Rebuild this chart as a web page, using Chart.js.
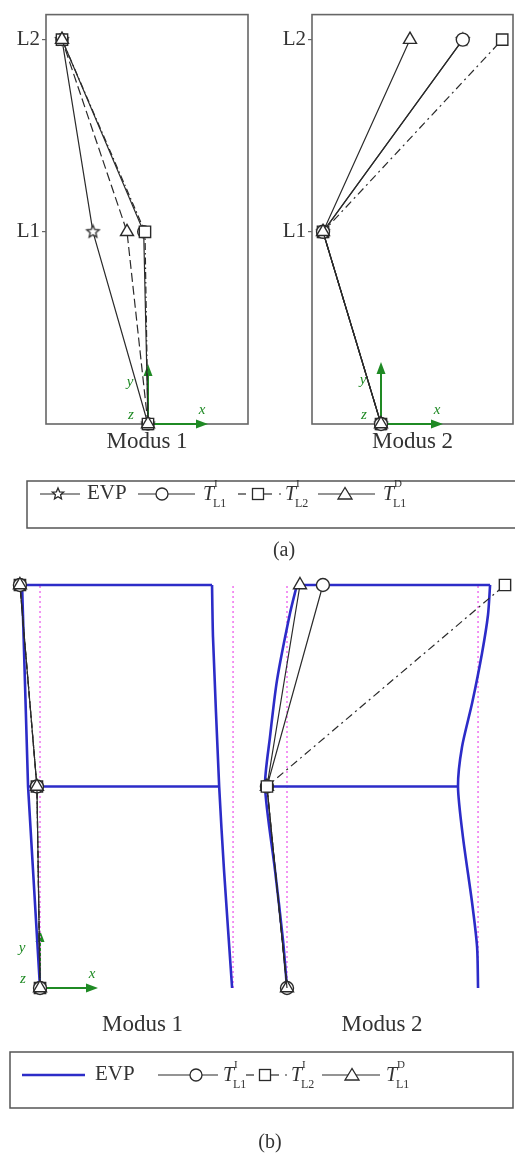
<!DOCTYPE html>
<html>
<head>
<meta charset="utf-8">
<script src="https://cdn.jsdelivr.net/npm/chart.js@4.4.1/dist/chart.umd.min.js"></script>
<style>
  html, body { margin: 0; padding: 0; background: #fff; }
  #page { position: relative; width: 515px; height: 1156px; overflow: hidden;
          font-family: 'Liberation Serif', 'DejaVu Serif', serif; color: #333; }
  #page canvas, #page svg, .lbl { position: absolute; }
  .lbl { line-height: 1; white-space: nowrap; }
</style>
</head>
<body>
<div id="page">
  <canvas id="a1" width="256" height="456" style="left:0;top:0"></canvas>
  <canvas id="a2" width="249" height="456" style="left:266px;top:0"></canvas>
  <canvas id="b2" width="260" height="480" style="left:255px;top:560px"></canvas>
  <canvas id="b1" width="285" height="480" style="left:0;top:560px"></canvas>
  <svg id="leg" width="515" height="1156" style="left:0;top:0"></svg>
</div>
<script>
// storey levels: ground, L1, L2
const levels = [0, 1, 2];
const levelLabels = ['', 'L1', 'L2'];

// (a) normalised mode shapes, one value per level
const evpA1 = [0, -0.64, -1];
const tI1A1 = [0, -0.05, -1];
const tI2A1 = [0, -0.035, -1];
const tD1A1 = [0, -0.244, -1];

const evpA2 = [0, -1, 1.41];
const tI1A2 = [0, -1, 1.41];
const tI2A2 = [0, -1, 2.09];
const tD1A2 = [0, -1, 0.5];

// (b) node displacements in bay widths
const tI1B1 = [0, -0.016, -0.104];
const tI2B1 = [0, -0.016, -0.104];
const tD1B1 = [0, -0.016, -0.104];

const tI1B2 = [0, -0.105, 0.188];
const tI2B2 = [0, -0.105, 1.141];
const tD1B2 = [0, -0.105, 0.068];

// (b) EVP deformed frame, Modus 1
const b1LeftY = [0, 1, 2];
const b1LeftX = [0, -0.062, -0.093];
const b1RightY = [0, 0.586, 1, 1.742, 2];
const b1RightX = [0.995, 0.953, 0.928, 0.896, 0.891];
const b1TopX = [-0.093, 0.891];
const b1MidX = [-0.062, 0.928];

// (b) EVP deformed frame, Modus 2
const b2LeftY = [0, 0.238, 0.586, 1, 1.246, 1.529, 1.861, 2];
const b2LeftX = [0, -0.021, -0.063, -0.115, -0.089, -0.052, 0.016, 0.052];
const b2RightY = [0, 0.203, 0.422, 0.749, 1, 1.196, 1.414, 1.663, 1.851, 2];
const b2RightX = [1.0, 0.995, 0.969, 0.921, 0.895, 0.916, 0.969, 1.021, 1.052, 1.063];
const b2TopX = [0.052, 1.063];
const b2MidX = [-0.115, 0.895];

// undeformed columns
const colX = [0, 1];
const colY = [0, 2];

const ink = '#2a2a2a';
const blue = '#2c2cc8';
const pink = '#f07af0';
const green = '#1f8a24';
const dashDot = [7, 3, 1.5, 3];

const toPts = (xs, ys) => xs.map((x, i) => ({ x: x, y: ys[i] }));

function starImage(r) {
  const c = document.createElement('canvas');
  const s = Math.ceil(r * 2 + 4);
  c.width = c.height = s;
  const g = c.getContext('2d');
  g.beginPath();
  for (let i = 0; i < 10; i++) {
    const rad = i % 2 ? r * 0.45 : r;
    const a = -Math.PI / 2 + i * Math.PI / 5;
    g.lineTo(s / 2 + rad * Math.cos(a), s / 2 + rad * Math.sin(a));
  }
  g.closePath();
  g.fillStyle = '#fff';
  g.fill();
  g.strokeStyle = ink;
  g.lineWidth = 1.3;
  g.stroke();
  return c;
}
const star = starImage(6.5);

function markerSeries(label, xs, style, radius, dash) {
  return {
    label: label, data: toPts(xs, levels), showLine: true,
    borderColor: ink, borderWidth: 1.2, borderDash: dash || [],
    pointStyle: style, pointRadius: radius, pointHoverRadius: radius,
    pointBackgroundColor: '#fff', pointBorderColor: ink, pointBorderWidth: 1.4,
    clip: false
  };
}

function lineSeries(label, xs, ys, color, width, dash, tension) {
  return {
    label: label, data: toPts(xs, ys), showLine: true,
    borderColor: color, borderWidth: width, borderDash: dash || [],
    pointRadius: 0, tension: tension || 0, clip: false
  };
}

const boxFrame = {
  id: 'boxFrame',
  beforeDatasetsDraw(chart, args, opts) {
    if (!opts.show) return;
    const { ctx, chartArea: a } = chart;
    ctx.save();
    ctx.strokeStyle = '#666';
    ctx.lineWidth = 1.6;
    ctx.strokeRect(a.left, a.top, a.right - a.left, a.bottom - a.top);
    ctx.restore();
  }
};

// small green x/y/z coordinate triad at the base node
const triad = {
  id: 'triad',
  beforeDatasetsDraw(chart, args, opts) {
    if (!opts.show) return;
    const { ctx, scales } = chart;
    const ox = scales.x.getPixelForValue(0);
    const oy = scales.y.getPixelForValue(0);
    const L = opts.len;
    ctx.save();
    ctx.strokeStyle = green;
    ctx.fillStyle = green;
    ctx.lineWidth = 2;
    ctx.beginPath();
    ctx.moveTo(ox, oy); ctx.lineTo(ox + L - 8, oy);
    ctx.moveTo(ox, oy); ctx.lineTo(ox, oy - L + 8);
    ctx.stroke();
    ctx.beginPath();
    ctx.moveTo(ox + L, oy); ctx.lineTo(ox + L - 12, oy - 4.5); ctx.lineTo(ox + L - 12, oy + 4.5);
    ctx.closePath(); ctx.fill();
    ctx.beginPath();
    ctx.moveTo(ox, oy - L); ctx.lineTo(ox - 4.5, oy - L + 12); ctx.lineTo(ox + 4.5, oy - L + 12);
    ctx.closePath(); ctx.fill();
    ctx.font = 'italic 15px "Liberation Serif"';
    ctx.textAlign = 'center';
    ctx.textBaseline = 'middle';
    ctx.fillText('x', ox + L - 6, oy - 14);
    ctx.fillText('y', ox - 18, oy - L + 18);
    ctx.fillText('z', ox - 17, oy - 9);
    ctx.restore();
  }
};

function panelChart(id, o) {
  return new Chart(document.getElementById(id), {
    type: 'scatter',
    data: { datasets: o.datasets },
    options: {
      responsive: false, animation: false, devicePixelRatio: 1,
      layout: { padding: o.padding, autoPadding: false },
      plugins: {
        legend: { display: false }, tooltip: { enabled: false },
        boxFrame: { show: o.frame }, triad: { show: o.triad, len: o.triadLen }
      },
      scales: {
        x: {
          type: 'linear', min: o.xMin, max: o.xMax,
          afterFit: s => { s.height = o.xAxisH; },
          ticks: { display: false }, grid: { display: false }, border: { display: false },
          title: {
            display: true, text: o.title, color: '#333',
            font: { family: 'Liberation Serif', size: 23 },
            padding: { top: 0, bottom: o.titlePad }
          }
        },
        y: {
          type: 'linear', min: o.yMin, max: o.yMax, display: o.yWidth > 0,
          afterFit: s => { s.width = o.yWidth; },
          afterBuildTicks: s => { s.ticks = o.yTicks ? levels.slice(1).map(v => ({ value: v })) : []; },
          ticks: {
            display: !!o.yTicks, autoSkip: false, padding: 2, color: '#333',
            font: { family: 'Liberation Serif', size: 21 },
            callback: v => levelLabels[v] || ''
          },
          grid: { display: !!o.yTicks, drawOnChartArea: false, drawTicks: true, tickLength: 4, color: '#666', lineWidth: 1.2 },
          border: { display: false }
        }
      }
    },
    plugins: [boxFrame, triad]
  });
}

// (a) Modus 1
panelChart('a1', {
  datasets: [
    markerSeries('T D L1', tD1A1, 'triangle', 7.5, [9, 4]),
    markerSeries('T I L2', tI2A1, 'rect', 8, dashDot),
    markerSeries('T I L1', tI1A1, 'circle', 6),
    markerSeries('EVP', evpA1, star, 6)
  ],
  padding: { left: 0, right: 8, top: 14, bottom: 0 },
  xMin: -1.186, xMax: 1.163, yMin: 0, yMax: 2.13,
  xAxisH: 32, titlePad: 0, yWidth: 46, yTicks: true,
  title: 'Modus 1', frame: true, triad: true, triadLen: 60
});

// (a) Modus 2
panelChart('a2', {
  datasets: [
    markerSeries('T D L1', tD1A2, 'triangle', 7.5),
    markerSeries('T I L1', tI1A2, 'circle', 6.5),
    markerSeries('T I L2', tI2A2, 'rect', 8, [8, 4, 2, 4]),
    markerSeries('EVP', evpA2, star, 6)
  ],
  padding: { left: 0, right: 2, top: 14, bottom: 0 },
  xMin: -1.19, xMax: 2.276, yMin: 0, yMax: 2.13,
  xAxisH: 32, titlePad: 0, yWidth: 46, yTicks: true,
  title: 'Modus 2', frame: true, triad: true, triadLen: 62
});

// (b) Modus 1
panelChart('b1', {
  datasets: [
    markerSeries('T D L1', tD1B1, 'triangle', 7.5, [7, 3]),
    markerSeries('T I L1', tI1B1, 'circle', 6.5),
    markerSeries('T I L2', tI2B1, 'rect', 8, dashDot),
    lineSeries('EVP', b1LeftX, b1LeftY, blue, 2.6),
    lineSeries('EVP', b1RightX, b1RightY, blue, 2.6, null, 0.2),
    lineSeries('EVP', b1TopX, [2, 2], blue, 2.6),
    lineSeries('EVP', b1MidX, [1, 1], blue, 2.6),
    lineSeries('undeformed', [colX[0], colX[0]], colY, pink, 1.6, [2, 3]),
    lineSeries('undeformed', [colX[1], colX[1]], colY, pink, 1.6, [2, 3])
  ],
  padding: { left: 0, right: 0, top: 10, bottom: 0 },
  xMin: -0.2073, xMax: 1.269, yMin: -0.0844, yMax: 2.0744,
  xAxisH: 35, titlePad: 1, yWidth: 0, yTicks: false,
  title: 'Modus 1', frame: false, triad: true, triadLen: 58
});

// (b) Modus 2 — the square marker is not shown at the fixed base node
const sqB2 = markerSeries('T I L2', tI2B2, 'rect', 8, [8, 4, 2, 4]);
sqB2.pointRadius = [0, 8, 8];
panelChart('b2', {
  datasets: [
    sqB2,
    markerSeries('T D L1', tD1B2, 'triangle', 7.5),
    markerSeries('T I L1', tI1B2, 'circle', 6.5),
    lineSeries('EVP', b2LeftX, b2LeftY, blue, 2.6, null, 0.25),
    lineSeries('EVP', b2RightX, b2RightY, blue, 2.6, null, 0.25),
    lineSeries('EVP', b2TopX, [2, 2], blue, 2.6),
    lineSeries('EVP', b2MidX, [1, 1], blue, 2.6),
    lineSeries('undeformed', [colX[0], colX[0]], colY, pink, 1.6, [2, 3]),
    lineSeries('undeformed', [colX[1], colX[1]], colY, pink, 1.6, [2, 3])
  ],
  padding: { left: 0, right: 6, top: 10, bottom: 0 },
  xMin: -0.1675, xMax: 1.162, yMin: -0.0844, yMax: 2.0744,
  xAxisH: 35, titlePad: 1, yWidth: 0, yTicks: false,
  title: 'Modus 2', frame: false, triad: false
});

// ---- legends ----
const page = document.getElementById('page');
const leg = document.getElementById('leg');
const svgNS = 'http://www.w3.org/2000/svg';

function el(tag, attrs) {
  const e = document.createElementNS(svgNS, tag);
  for (const k in attrs) e.setAttribute(k, attrs[k]);
  leg.appendChild(e);
  return e;
}
function seg(x1, x2, y, color, w, dash) {
  el('line', { x1: x1, y1: y, x2: x2, y2: y, stroke: color || ink, 'stroke-width': w || 1.2, 'stroke-dasharray': dash || 'none' });
}
const mk = { fill: '#fff', stroke: ink, 'stroke-width': 1.3 };
function circle(x, y) { el('circle', Object.assign({ cx: x, cy: y, r: 6 }, mk)); }
function square(x, y) { el('rect', Object.assign({ x: x - 5.5, y: y - 5.5, width: 11, height: 11 }, mk)); }
function tri(x, y) { el('polygon', Object.assign({ points: `${x},${y - 6.5} ${x - 7},${y + 5} ${x + 7},${y + 5}` }, mk)); }
function starMark(x, y) {
  const p = [];
  for (let i = 0; i < 10; i++) {
    const rad = i % 2 ? 2.7 : 6;
    const a = -Math.PI / 2 + i * Math.PI / 5;
    p.push((x + rad * Math.cos(a)).toFixed(1) + ',' + (y + rad * Math.sin(a)).toFixed(1));
  }
  el('polygon', Object.assign({ points: p.join(' ') }, mk));
}
function label(x, cy, html, size, center) {
  const d = document.createElement('div');
  d.className = 'lbl';
  d.style.left = x + 'px';
  d.style.top = (cy - size * 0.55) + 'px';
  d.style.fontSize = size + 'px';
  if (center) d.style.transform = 'translateX(-50%)';
  d.innerHTML = html;
  page.appendChild(d);
}
function tLabel(x, cy, sup, sub) {
  label(x, cy, '<i>T</i>', 20);
  label(x + 11, cy - 10, sup, 11);
  label(x + 10, cy + 10, sub, 12);
}

// legend (a)
el('rect', { x: 27, y: 481, width: 500, height: 47, fill: 'none', stroke: '#555', 'stroke-width': 1.5 });
let cy = 494;
seg(40, 80, cy); starMark(58, cy);
label(87, cy, 'EVP', 21);
seg(138, 195, cy); circle(162, cy);
tLabel(203, cy, 'I', 'L1');
seg(238, 246, cy); seg(264, 272, cy); square(258, cy); seg(279, 281, cy);
tLabel(285, cy, 'I', 'L2');
seg(318, 375, cy); tri(345, cy);
tLabel(383, cy, 'D', 'L1');
label(284, 550, '(a)', 20, true);

// legend (b)
el('rect', { x: 10, y: 1052, width: 503, height: 56, fill: 'none', stroke: '#555', 'stroke-width': 1.5 });
cy = 1075;
seg(22, 85, cy, blue, 2.5);
label(95, cy, 'EVP', 21);
seg(158, 218, cy); circle(196, cy);
tLabel(223, cy, 'I', 'L1');
seg(246, 254, cy); seg(271, 279, cy); square(265, cy); seg(285, 287, cy);
tLabel(291, cy, 'I', 'L2');
seg(322, 380, cy); tri(352, cy);
tLabel(386, cy, 'D', 'L1');
label(270, 1142, '(b)', 20, true);
</script>
</body>
</html>
